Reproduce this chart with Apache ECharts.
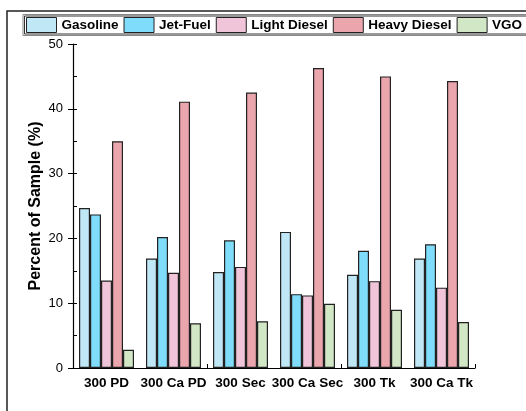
<!DOCTYPE html>
<html><head><meta charset="utf-8">
<script src="https://cdn.jsdelivr.net/npm/echarts@6/dist/echarts.min.js"></script>
<style>html,body{margin:0;padding:0;background:#fff}#c{width:526px;height:411px}</style>
</head><body><div id="c"></div>
<script>
const categories = ['300 PD','300 Ca PD','300 Sec','300 Ca Sec','300 Tk','300 Ca Tk'];
const gasoline    = [24.7, 16.9, 14.8, 21.0, 14.4, 16.9];
const jetFuel     = [23.7, 20.2, 19.7, 11.4, 18.1, 19.1];
const lightDiesel = [13.5, 14.7, 15.6, 11.2, 13.4, 12.4];
const heavyDiesel = [35.0, 41.1, 42.5, 46.3, 45.0, 44.3];
const vgo         = [2.8, 6.9, 7.2, 9.9, 9.0, 7.1];
const seriesNames = ['Gasoline','Jet-Fuel','Light Diesel','Heavy Diesel','VGO'];
const colors = ['#c0e7f5','#7fdcfa','#f0c4d9','#eba5ac','#d2e7c6'];
const yTicks = [0,10,20,30,40,50];

const font = 'Liberation Sans, Arial, sans-serif';
const chart = echarts.init(document.getElementById('c'), null, {renderer:'canvas'});
const dataSets = [gasoline, jetFuel, lightDiesel, heavyDiesel, vgo];
const series = dataSets.map((d,i)=>({
  name: seriesNames[i], type:'bar', data:d, barWidth:11, barGap:'0%',
  xAxisIndex:0, yAxisIndex:0,
  itemStyle:{color:colors[i], borderColor:'#222', borderWidth:1.2},
  emphasis:{disabled:true}
}));
chart.setOption({
  animation:false,
  textStyle:{fontFamily:font},
  graphic:[
    {type:'rect', shape:{x:7,y:11,width:600,height:500}, style:{fill:'none',stroke:'#222',lineWidth:1.5}, silent:true},
    {type:'rect', shape:{x:23,y:14.5,width:600,height:21}, style:{fill:'none',stroke:'#888',lineWidth:1}, silent:true},
    {type:'rect', shape:{x:24.5,y:16,width:600,height:18}, style:{fill:'none',stroke:'#333',lineWidth:1}, silent:true}
  ],
  legend:{
    left:26, top:17, padding:0, width:600, itemWidth:30, itemHeight:15, itemGap:5,
    icon:'rect',
    textStyle:{fontFamily:font, fontWeight:'bold', fontSize:13.5, color:'#000'},
    itemStyle:{borderColor:'#222', borderWidth:1},
    data: seriesNames
  },
  grid:{left:73, right:51, top:44, bottom:43, containLabel:false},
  xAxis:[
    {type:'category', data:categories, position:'bottom',
     axisLine:{lineStyle:{color:'#000',width:1.2}},
     axisTick:{alignWithLabel:true, length:5, lineStyle:{color:'#000'}},
     axisLabel:{fontFamily:font, fontWeight:'bold', fontSize:13.5, color:'#000', margin:8, interval:0}},
    {type:'category', data:categories, position:'bottom', gridIndex:0,
     axisLine:{show:false},
     axisTick:{show:true, inside:true, length:4, lineStyle:{color:'#000'}},
     axisLabel:{show:false}}
  ],
  yAxis:[
    {type:'value', min:yTicks[0], max:yTicks[yTicks.length-1], interval:10,
     axisLine:{show:true, lineStyle:{color:'#000',width:1.2}},
     axisTick:{show:true, length:5, lineStyle:{color:'#000'}},
     splitLine:{show:false},
     axisLabel:{fontFamily:font, fontSize:13, color:'#000', margin:10}},
    {type:'value', min:0, max:50, interval:5, position:'left',
     name:'Percent of Sample (%)', nameLocation:'middle', nameGap:29,
     nameTextStyle:{fontFamily:font, fontWeight:'bold', fontSize:16, color:'#000'},
     axisLine:{show:false},
     axisTick:{show:true, inside:true, length:4, lineStyle:{color:'#000'}},
     splitLine:{show:false}, axisLabel:{show:false}}
  ],
  series: series
});
</script></body></html>
